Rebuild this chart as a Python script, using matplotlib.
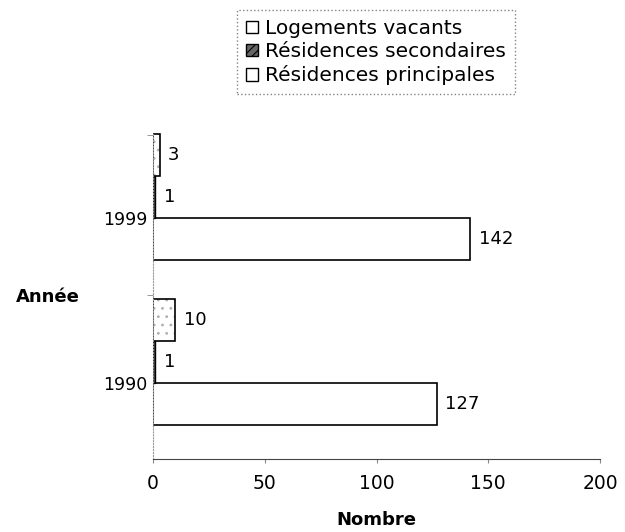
import numpy as np
import matplotlib.pyplot as plt
from matplotlib.patches import Patch

plt.rcParams['font.family'] = ['DejaVu Sans']
plt.rcParams['hatch.linewidth'] = 0.8

# Nombre de logements par catégorie, recensements 1990 et 1999
annees = ['1990', '1999']
principales = [127, 142]
secondaires = [1, 1]
vacants = [10, 3]

fig = plt.figure(figsize=(6.25, 5.32), dpi=100)
ax = fig.add_axes([0.245, 0.137, 0.715, 0.613])

y = np.arange(len(annees))
h = 0.254

b_princ = ax.barh(y - 0.127, principales, height=h, color='white',
                  edgecolor='black', linewidth=1.2)
b_sec = ax.barh(y + 0.127, secondaires, height=h, color='#555555',
                edgecolor='black', linewidth=1.0)
# pointillé léger à l'intérieur, contour noir par-dessus
ax.barh(y + 0.381, vacants, height=h, color='white', edgecolor='#b0b0b0',
        linewidth=0, hatch='..')
b_vac = ax.barh(y + 0.381, vacants, height=h, fill=False,
                edgecolor='black', linewidth=1.2)

for bars in (b_princ, b_sec, b_vac):
    ax.bar_label(bars, padding=6, fontsize=13)

ax.set_xlim(0, 200)
ax.set_ylim(-0.46, 1.515)
ax.set_xticks([0, 50, 100, 150, 200])
ax.tick_params(axis='x', labelsize=13.5, length=3, pad=8, color='#888888')
ax.set_yticks(y)
ax.set_yticklabels(annees, fontsize=12.5)
ax.tick_params(axis='y', length=0, pad=4)
ax.set_yticks([0.533, 1.5], minor=True)
ax.tick_params(axis='y', which='minor', length=4, color='#888888')

for side in ('top', 'right'):
    ax.spines[side].set_visible(False)
ax.spines['left'].set_color('#999999')
ax.spines['left'].set_linestyle(':')
ax.spines['bottom'].set_color('#444444')

fig.text(0.603, 0.022, 'Nombre', fontsize=13, fontweight='bold',
         ha='center', va='center')
fig.text(0.077, 0.442, 'Année', fontsize=13, fontweight='bold',
         ha='center', va='center')

handles = [
    Patch(facecolor='white', edgecolor='black', label='Logements vacants'),
    Patch(facecolor='#666666', edgecolor='black', hatch='////',
          label='Résidences secondaires'),
    Patch(facecolor='white', edgecolor='black', label='Résidences principales'),
]
leg = fig.legend(handles=handles, loc='upper left',
                 bbox_to_anchor=(0.379, 0.981), fontsize=14.5, frameon=True,
                 fancybox=False, handlelength=0.6, handleheight=0.6,
                 handletextpad=0.35, labelspacing=0.2, borderpad=0.45,
                 borderaxespad=0)
leg.get_frame().set_edgecolor('#666666')
leg.get_frame().set_linestyle(':')
leg.get_frame().set_linewidth(1.0)

fig.savefig('out.png', dpi=100)
